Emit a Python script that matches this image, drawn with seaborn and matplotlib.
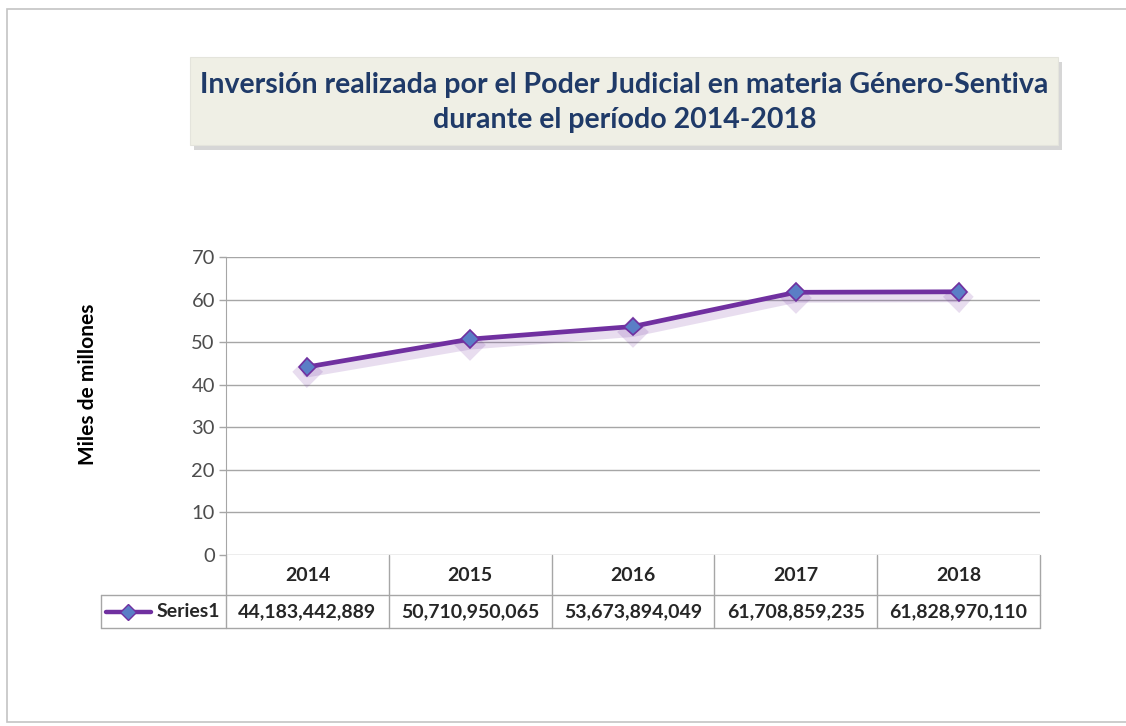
import matplotlib
matplotlib.use("Agg")
import matplotlib.pyplot as plt
import matplotlib.patheffects as pe
import matplotlib.transforms as mtransforms
from matplotlib.patches import Rectangle
import numpy as np
import pandas as pd
import seaborn as sns

# data
years = ["2014", "2015", "2016", "2017", "2018"]
inversion = [44183442889, 50710950065, 53673894049, 61708859235, 61828970110]
series_name = "Series1"

purple = "#7030a0"
marker_blue = "#5a7ec6"
grid_gray = "#a6a6a6"
text_dark = "#262626"
title_blue = "#1f3a68"

sns.set_style("white")
plt.rcParams["font.family"] = ["Lato", "DejaVu Sans"]

df = pd.DataFrame({"year": years, "valor": np.array(inversion) / 1e9})

fig = plt.figure(figsize=(11.26, 7.26), dpi=100)

# outer frame of the pasted chart
fig.add_artist(Rectangle((0.006, 0.006), 1.0, 0.981, transform=fig.transFigure,
                         facecolor="white", edgecolor="#c4c4c4", lw=1.2, zorder=0))

# title box with shadow
fig.add_artist(Rectangle((0.172, 0.793), 0.771, 0.121, transform=fig.transFigure,
                         facecolor="#9a9a9a", edgecolor="none", alpha=0.4, zorder=1))
fig.add_artist(Rectangle((0.169, 0.800), 0.771, 0.121, transform=fig.transFigure,
                         facecolor="#efefe5", edgecolor="#e4e4dc", lw=0.8, zorder=2))
fig.text(0.5545, 0.859, "Inversión realizada por el Poder Judicial en materia Género-Sentiva\n"
         "durante el período 2014-2018", ha="center", va="center", fontsize=20.5,
         fontweight="bold", color=title_blue, linespacing=1.45, zorder=3)

ax = fig.add_axes([0.2007, 0.2355, 0.7229, 0.4105])

sns.lineplot(data=df, x="year", y="valor", ax=ax, color=purple, lw=3.4,
             marker="D", markersize=9, markerfacecolor=marker_blue,
             markeredgecolor=purple, markeredgewidth=1.2, zorder=5,
             path_effects=[pe.SimpleLineShadow(offset=(0, -4), shadow_color=purple,
                                               alpha=0.16, linewidth=7),
                           pe.Normal()])

ax.set_xlim(-0.5, len(years) - 0.5)
ax.set_ylim(0, 70)
ax.set_yticks(range(0, 71, 10))
ax.yaxis.grid(True, color=grid_gray, lw=1)
ax.xaxis.grid(False)
ax.set_xticks([])
ax.set_xlabel("")
ax.set_ylabel("")
ax.tick_params(axis="y", left=True, length=5, width=1, color=grid_gray,
               labelsize=14.5, labelcolor="#4d4d4d", pad=3)
for s in ["top", "right", "bottom"]:
    ax.spines[s].set_visible(False)
ax.spines["left"].set_color(grid_gray)

fig.text(0.078, 0.471, "Miles de millones", rotation=90, ha="center", va="center",
         fontsize=15, fontweight="bold", color="black")

# data table under the axis, columns follow the category positions
trans = mtransforms.blended_transform_factory(ax.transData, ax.transAxes)
px_unit = 814 / len(years)
hdr_h = 40 / 298
tab_h = 73 / 298
key_left = -0.5 - 125 / px_unit
n = len(years)
line_kw = dict(transform=trans, color=grid_gray, lw=1, clip_on=False, zorder=4)

ax.plot([-0.5, -0.5], [0, -tab_h], **line_kw)
for i in range(n):
    ax.plot([i + 0.5, i + 0.5], [0, -tab_h], **line_kw)
ax.plot([key_left, n - 0.5], [-hdr_h, -hdr_h], **line_kw)
ax.plot([key_left, n - 0.5], [-tab_h, -tab_h], **line_kw)
ax.plot([key_left, key_left], [-hdr_h, -tab_h], **line_kw)

labels = ["{:,}".format(v) for v in inversion]
y_hdr = -hdr_h / 2
y_row = -(hdr_h + tab_h) / 2
for i, (yr, lab) in enumerate(zip(years, labels)):
    ax.text(i, y_hdr, yr, transform=trans, ha="center", va="center",
            fontsize=14, fontweight="bold", color=text_dark)
    ax.text(i, y_row, lab, transform=trans, ha="center", va="center",
            fontsize=14, fontweight="bold", color=text_dark)

# legend key in the first cell
ax.text(-0.5 - 6 / px_unit, y_row, series_name, transform=trans, ha="right", va="center",
        fontsize=14, fontweight="bold", color=text_dark)
ax.plot([key_left + 5 / px_unit, key_left + 50 / px_unit], [y_row, y_row], transform=trans,
        color=purple, lw=3.2, clip_on=False, zorder=6)
ax.plot([key_left + 27 / px_unit], [y_row], transform=trans, marker="D",
        markersize=8, markerfacecolor=marker_blue, markeredgecolor=purple,
        clip_on=False, zorder=7)

fig.savefig("out.png", dpi=100)
